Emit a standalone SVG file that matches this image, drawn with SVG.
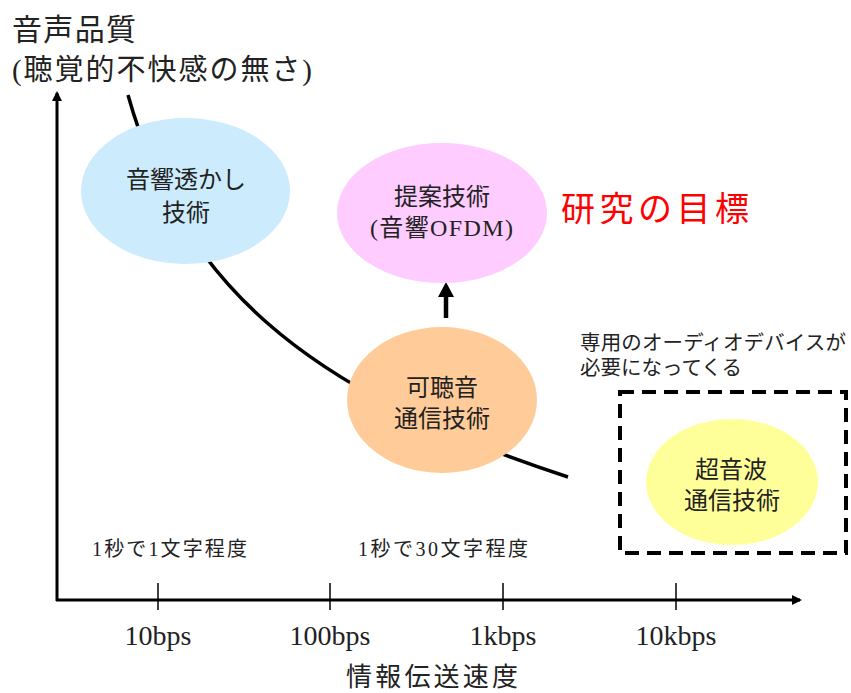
<svg xmlns="http://www.w3.org/2000/svg" width="851" height="693" viewBox="0 0 851 693">
<style>
text{font-family:"Liberation Serif","Noto Sans CJK JP",serif;fill:#222}
.n{font-size:24px;text-anchor:middle}
.ax{stroke:#000;stroke-width:3;fill:none}
.tk{stroke:#000;stroke-width:1.5}
.tl{font-size:28px;text-anchor:middle}
</style>
<defs>
<marker id="ah" markerWidth="10" markerHeight="10" refX="8" refY="5" orient="auto" markerUnits="userSpaceOnUse">
<path d="M0,0 L10,5 L0,10 z" fill="#000"/>
</marker>
</defs>
<rect width="851" height="693" fill="#fff"/>
<g id="connectors">
<path d="M128,95 C180,280 300,390 568,477" fill="none" stroke="#000" stroke-width="3.5"/>
<line x1="57" y1="601" x2="57" y2="93" class="ax" marker-end="url(#ah)"/>
<line x1="56" y1="600" x2="800" y2="600" class="ax" marker-end="url(#ah)"/>
<line x1="158" y1="583" x2="158" y2="610" class="tk"/>
<line x1="330" y1="583" x2="330" y2="610" class="tk"/>
<line x1="503" y1="583" x2="503" y2="610" class="tk"/>
<line x1="676" y1="583" x2="676" y2="610" class="tk"/>
<line x1="446" y1="318" x2="446" y2="296" stroke="#000" stroke-width="4.5"/>
<path d="M438,297 L446,282 L454,297 z" fill="#000"/>
</g>
<g id="watermark">
<ellipse cx="185.5" cy="191" rx="104.5" ry="73" fill="#CCEBFC"/>
<text class="n" x="186" y="188" font-size="23.5">音響透かし</text>
<text class="n" x="186" y="221" font-size="23.5">技術</text>
</g>
<g id="proposed">
<ellipse cx="442" cy="213" rx="105" ry="70" fill="#FFCCFF"/>
<text class="n" x="442" y="205">提案技術</text>
<text class="n" x="441.5" y="236" textLength="143" lengthAdjust="spacing">(音響OFDM)</text>
</g>
<g id="audible">
<ellipse cx="442" cy="400" rx="95" ry="73" fill="#FFCC99"/>
<text class="n" x="442" y="396">可聴音</text>
<text class="n" x="442" y="427">通信技術</text>
</g>
<g id="ultrasonic">
<rect x="620" y="392" width="226" height="161" fill="none" stroke="#000" stroke-width="4" stroke-dasharray="14,8"/>
<ellipse cx="732" cy="482" rx="86" ry="63" fill="#FFFF99"/>
<text class="n" x="731" y="478">超音波</text>
<text class="n" x="732" y="509">通信技術</text>
</g>
<g id="labels">
<text x="12" y="40" font-size="30" textLength="124" lengthAdjust="spacing">音声品質</text>
<text x="12" y="80" font-size="29" textLength="300" lengthAdjust="spacing">(聴覚的不快感の無さ)</text>
<text x="561" y="221" font-size="34" style="fill:#FF0000" textLength="188" lengthAdjust="spacing">研究の目標</text>
<text x="580" y="350" font-size="20.5" textLength="266" lengthAdjust="spacing">専用のオーディオデバイスが</text>
<text x="580" y="375" font-size="20.5">必要になってくる</text>
<text x="92" y="556" font-size="20" textLength="155" lengthAdjust="spacing">1秒で1文字程度</text>
<text x="358" y="556" font-size="20" textLength="170" lengthAdjust="spacing">1秒で30文字程度</text>
<text class="tl" x="158" y="645">10bps</text>
<text class="tl" x="330" y="645">100bps</text>
<text class="tl" x="503" y="645">1kbps</text>
<text class="tl" x="676" y="645">10kbps</text>
<text x="346" y="686" font-size="26" textLength="172" lengthAdjust="spacing">情報伝送速度</text>
</g>
</svg>
